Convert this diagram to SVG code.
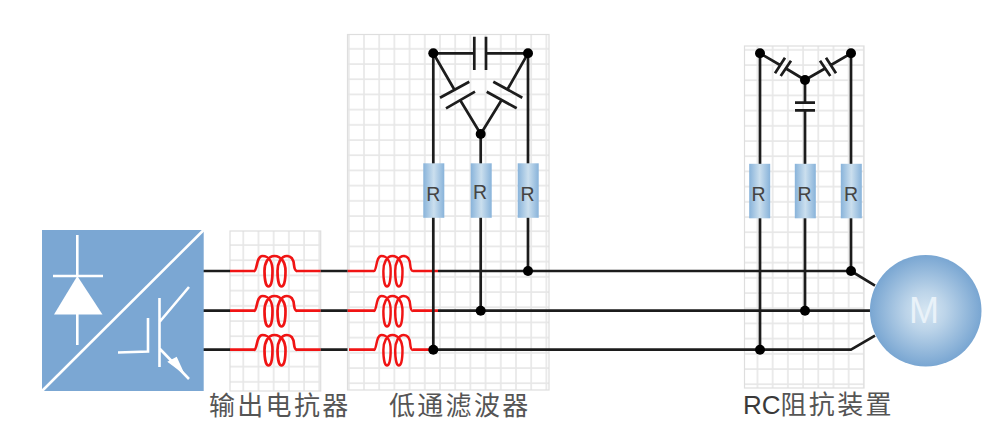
<svg xmlns="http://www.w3.org/2000/svg" xmlns:xlink="http://www.w3.org/1999/xlink" width="1000" height="439" viewBox="0 0 1000 439">
<style>
.panel{stroke:#dedede;stroke-width:1.2}
.w{fill:none;stroke:#1c1c1c;stroke-width:2.7;stroke-linejoin:round}
.r{fill:none;stroke:#f01414;stroke-width:2.7;stroke-linejoin:round}
.d{fill:#000;stroke:none}
.wh{fill:none;stroke:#fff;stroke-width:2.6}
.res{fill:url(#rg)}
.rt{font-family:"Liberation Sans",Arial,sans-serif;font-size:19.500px;fill:#444;text-anchor:middle}
.lb{font-family:"Liberation Sans","Noto Sans CJK SC",sans-serif;font-size:26px;fill:#555;letter-spacing:2.300px}
</style>
<defs>
<pattern id="grid" width="15.2" height="15.2" patternUnits="userSpaceOnUse">
<rect width="15.2" height="15.2" fill="#fff"/>
<path d="M1 0V15.2M0 1H15.2" stroke="#e7e7e7" stroke-width="1.6" fill="none"/>
</pattern>
<pattern id="g1" href="#grid" patternTransform="translate(242.300 244)"/>
<pattern id="g2" href="#grid" patternTransform="translate(363 47.800)"/>
<pattern id="g3" href="#grid" patternTransform="translate(771.700 64)"/>
<linearGradient id="rg"><stop offset="0" stop-color="#88b3da"/><stop offset=".5" stop-color="#cbdfee"/><stop offset="1" stop-color="#88b3da"/></linearGradient>
<radialGradient id="mg"><stop offset="0" stop-color="#d6e6f2"/><stop offset=".35" stop-color="#bcd4e9"/><stop offset="1" stop-color="#79a6d2"/></radialGradient>
<path id="coil" class="r" d="M2 0C5.500 0 4-15 10.500-15C17-15 20.500-9 20.500 0C20.500 10 19 15.500 16.500 15.500C13.500 15.500 12.500 7 12.500 0C12.500-8 16-15 22.500-15C29-15 33.500-9 33.500 0C33.500 10 32 15.500 29.500 15.500C26.500 15.500 25.500 7 25.500 0C25.500-8 29-15 35-15C39-15 41.500-12 42-6C42.500-1 43.500 0 45 0"/>
<rect id="rb" class="res" x="-10.500" y="0" width="21" height="54.500"/>
</defs>

<g id="panel-reactor"><rect class="panel" x="230" y="231" width="90.700" height="160" fill="url(#g1)"/></g>
<g id="panel-filter"><rect class="panel" x="347.500" y="34.500" width="201.500" height="355.500" fill="url(#g2)"/></g>
<g id="panel-rc"><rect class="panel" x="744.500" y="46" width="119.500" height="342" fill="url(#g3)"/></g>

<g id="reactor">
<path class="r" d="M230 271H255M296 271H320.700M230 310.700H255M296 310.700H320.700M230 349.700H255M296 349.700H320.700"/>
<use href="#coil" x="252" y="271"/><use href="#coil" x="252" y="311"/><use href="#coil" x="252" y="350"/>
</g>
<g id="filter-reactor">
<path class="r" d="M347.500 271H374M413 271H438M347.500 310.700H374M413 310.700H438M349 349.700H374M413 349.700H434"/>
<g transform="translate(372 271) scale(.91 1)"><use href="#coil"/></g>
<g transform="translate(372 311) scale(.91 1)"><use href="#coil"/></g>
<g transform="translate(372 350) scale(.91 1)"><use href="#coil"/></g>
</g>

<g id="connectors">
<path class="w" d="M203 271H230M320.700 271H347.500M438 271H851L875 285.700"/>
<path class="w" d="M203 310.700H230M320.700 310.700H347.500M438 310.700H872"/>
<path class="w" d="M203 349.700H230M320.700 349.700H347.500M434 349.700H851L875 335.700"/>
<path class="w" d="M433.300 53.300V349.700M480.700 134V310.700M528 53.300V271"/>
<path class="w" d="M433.300 53.300H474.300M486 53.300H528M474.300 36.700V70M486 36.700V70"/>
<path class="w" d="M433.300 53.300L454 89M440 97.700L469.300 81.700M446 108.300L475 91.700M460.700 101L480.700 134"/>
<path class="w" d="M528 53.300L507.700 89M522.300 97.700L493.300 81.700M516.700 108.300L486.700 91.700M501 101L480.700 134"/>
<path class="w" d="M760 53.300V349.700M805 80V102.700M805 110.300V310.700M851 53.300V271"/>
<path class="w" d="M760 53.300L780 65M775 73.300L785 57.700M780.700 76L791 60.700M786 68.500L805 80"/>
<path class="w" d="M851 53.300L831 65M836 73.300L826 57.700M830.300 76L820 60.700M825 68.500L805 80"/>
<path class="w" d="M795 102.700H815M795 110.300H815"/>
<g class="d">
<circle cx="433.300" cy="53.300" r="5"/><circle cx="528" cy="53.300" r="5"/><circle cx="480.700" cy="134" r="5"/>
<circle cx="528" cy="271" r="5"/><circle cx="480.700" cy="310.700" r="5"/><circle cx="433.300" cy="349.700" r="5"/>
<circle cx="760" cy="53.300" r="5"/><circle cx="851" cy="53.300" r="5"/><circle cx="805" cy="80" r="5"/>
<circle cx="851" cy="271" r="5"/><circle cx="805" cy="310.700" r="5"/><circle cx="760" cy="349.700" r="5"/>
</g>
</g>

<g id="converter">
<rect x="42" y="230" width="161.700" height="161" fill="#7ba7d3"/>
<path class="wh" d="M42 391L203.700 230"/>
<path class="wh" d="M77.300 235V276M53 276H103M77.300 314V345"/>
<path fill="#fff" d="M77.300 276L102.500 314.500H54Z"/>
<path class="wh" d="M118 352.500L148 351.500V318M159.500 298V367M159.500 322L189 287M160 349L189 379"/>
<path fill="#fff" d="M167.300 361.700L176.700 356.700L185 375Z"/>
</g>

<g id="filter-resistors">
<g><use href="#rb" x="433.800" y="163.300"/><text class="rt" x="433.300" y="201">R</text></g>
<g><use href="#rb" x="481.200" y="163.300"/><text class="rt" x="480" y="199">R</text></g>
<g><use href="#rb" x="528.200" y="163.300"/><text class="rt" x="527.500" y="201">R</text></g>
</g>
<g id="rc-resistors">
<g><use href="#rb" x="759.700" y="163.800"/><text class="rt" x="758.500" y="201">R</text></g>
<g><use href="#rb" x="805.300" y="163.800"/><text class="rt" x="804.500" y="201">R</text></g>
<g><use href="#rb" x="851.300" y="163.800"/><text class="rt" x="851" y="201">R</text></g>
</g>

<g id="motor">
<circle cx="925.700" cy="310.700" r="55.800" fill="url(#mg)"/>
<text x="924" y="323" font-family="'Liberation Sans',Arial,sans-serif" font-size="36" fill="#e9f2f9" text-anchor="middle">M</text>
</g>

<g id="labels">
<text class="lb" x="209" y="414.500">输出电抗器</text>
<text class="lb" x="389" y="414.500">低通滤波器</text>
<text class="lb" x="743" y="414"><tspan fill="#3a3a3a" letter-spacing="0">RC</tspan>阻抗装置</text>
</g>
</svg>
